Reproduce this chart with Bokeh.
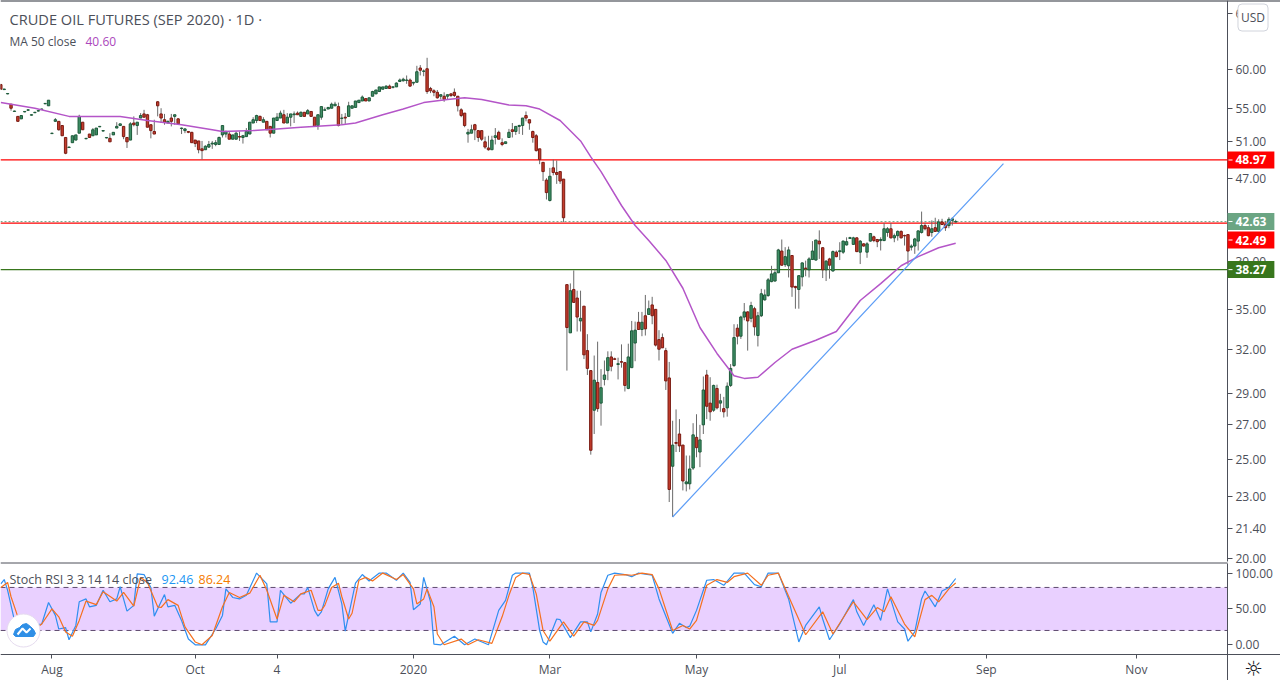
from math import log, exp
from bokeh.plotting import figure
from bokeh.models import Range1d, FixedTicker, Label, BoxAnnotation, NumeralTickFormatter, LinearAxis, LinearScale
from bokeh.embed import file_html
from bokeh.resources import INLINE

opens = [58.0,57.35,56.8,55.5,54.6,54.0,53.7,54.55,54.75,54.15,
54.45,54.65,54.85,55.55,55.3,51.95,53.4,53.4,52.9,51.5,
50.35,50.9,51.2,52.0,53.3,51.35,51.9,51.7,51.8,52.75,
52.25,51.45,51.4,51.8,52.6,52.9,52.8,51.5,51.2,53.2,
52.9,53.8,54.3,54.2,53.0,52.2,55.8,54.3,53.6,53.2,
53.8,54.0,53.7,52.55,52.3,52.2,52.1,51.2,51.1,50.2,
50.1,50.4,50.75,50.7,50.7,51.8,51.9,51.9,51.3,51.3,
51.6,51.5,51.6,51.9,53.2,53.5,54.0,53.3,53.4,52.8,
52.0,53.5,53.8,54.2,53.2,53.9,54.2,54.4,54.0,54.5,
54.3,54.6,53.9,52.9,53.9,54.75,54.9,55.0,55.3,55.2,
53.75,53.9,54.0,55.0,55.1,55.7,55.9,56.2,55.9,56.5,
56.8,57.1,57.4,57.5,57.8,57.65,57.7,58.4,58.5,58.55,
58.6,58.2,58.3,60.2,59.75,60.1,57.5,57.2,57.0,56.5,
56.5,56.5,56.8,57.0,56.5,54.8,54.4,51.9,52.0,53.0,
52.3,52.3,51.0,50.3,50.1,51.5,52.1,50.9,50.8,51.5,
52.4,52.2,52.8,52.9,54.1,53.6,52.2,51.7,50.2,48.7,
46.8,44.7,48.1,47.6,47.7,46.9,37.0,33.2,36.6,35.9,
34.1,35.25,31.9,30.5,27.9,29.7,28.35,29.9,30.5,31.45,
31.32,30.92,31.12,31.05,29.3,30.7,32.45,34.0,33.45,34.5,
34.6,35.35,35.0,32.7,32.85,31.9,30.0,24.6,25.95,26.45,
25.8,23.65,23.65,24.5,26.25,25.4,27.0,30.2,28.35,27.9,
29.3,28.35,28.0,28.05,29.5,30.85,33.55,32.95,34.4,34.8,
34.3,35.05,33.0,34.5,35.75,36.1,37.25,37.3,38.0,39.9,
38.7,38.6,39.5,36.85,36.6,37.65,38.4,38.25,39.15,39.1,
40.8,40.2,38.25,39.2,38.15,39.8,39.85,39.8,40.45,41.05,
40.5,41.1,39.8,40.55,39.8,40.8,41.2,40.95,40.85,40.85,
41.6,41.95,41.1,41.3,41.7,41.32,41.4,40.25,40.35,40.8,
41.6,42.25,42.05,41.6,42.05,41.7,42.6,42.35,42.25,42.75,42.6]

highs = [58.1,57.45,56.9,55.5,54.7,54.0,54.1,54.65,54.85,54.25,
54.55,54.75,54.95,55.65,56.0,52.05,53.8,53.4,52.9,51.5,
50.45,51.7,51.8,54.2,53.3,51.45,51.9,52.6,52.6,52.85,
52.35,51.55,52.0,52.1,53.3,53.1,52.8,51.5,53.3,54.0,
53.3,54.4,54.8,54.3,53.0,53.6,55.9,55.0,54.3,53.5,
54.3,54.2,53.8,52.65,52.6,52.25,52.15,51.2,51.1,51.1,
50.6,51.1,51.1,51.2,51.6,52.9,52.3,52.2,51.8,52.2,
52.2,51.8,52.6,53.3,53.9,54.2,54.1,53.9,53.4,52.8,
53.8,54.4,54.7,54.8,54.4,54.3,54.6,54.6,54.6,54.5,
54.9,54.6,53.9,54.2,55.2,55.1,55.1,55.7,55.8,55.7,
54.3,54.4,55.8,55.3,55.9,56.0,56.6,56.2,56.3,57.2,
57.3,57.7,57.7,57.9,58.0,57.8,58.3,58.8,58.9,59.2,
58.8,58.3,60.5,60.6,60.0,61.6,57.7,57.4,57.3,56.7,
57.0,56.7,56.9,57.5,56.5,55.0,54.4,52.5,53.0,53.1,
52.3,52.3,51.6,51.7,51.7,52.6,52.3,51.4,51.0,52.5,
53.2,52.8,53.0,53.8,54.6,53.6,52.3,51.9,50.2,48.7,
47.0,48.1,49.0,48.9,47.7,46.9,37.0,37.1,38.2,36.5,
36.5,35.25,33.1,30.5,31.55,32.55,30.6,31.2,31.85,31.85,
31.4,31.4,32.35,31.1,32.4,34.1,34.05,34.8,34.8,36.15,
35.7,36.0,35.0,33.4,33.15,32.1,31.1,27.25,27.95,27.35,
25.8,25.2,25.2,27.1,27.65,27.0,30.1,30.55,30.05,29.55,
29.55,28.95,28.75,29.7,30.95,33.85,33.85,34.5,35.5,34.85,
35.6,35.2,34.8,36.65,36.6,37.55,38.6,38.35,40.1,40.95,
40.25,40.3,39.5,36.9,37.8,38.9,39.05,39.35,40.8,40.9,
41.8,40.25,39.1,39.3,39.95,39.95,40.7,40.85,41.15,41.2,
41.2,41.15,40.9,40.6,40.7,41.55,41.3,41.0,41.15,42.5,
42.1,42.5,41.5,41.8,41.8,41.4,41.45,40.5,41.1,41.8,
43.6,42.5,42.3,42.75,43.0,42.85,42.9,42.7,43.05,43.05,42.8]

lows = [57.4,57.3,56.75,54.7,54.55,53.4,53.7,54.5,54.7,54.1,
54.4,54.6,54.8,55.5,55.3,51.9,53.35,52.3,51.7,49.6,
50.3,50.9,51.2,52.0,52.4,51.3,51.5,51.7,51.8,52.7,
52.2,51.4,51.0,51.8,52.6,52.85,51.3,50.3,51.2,52.8,
51.8,53.8,53.9,52.7,51.4,51.9,54.0,53.2,53.0,53.2,
52.8,53.0,53.1,51.9,52.0,52.0,50.9,50.4,49.7,49.0,
50.1,50.3,50.2,50.5,50.7,51.5,51.5,51.3,51.3,51.3,
51.1,50.8,51.6,51.9,53.2,53.2,53.5,53.3,52.4,51.5,
52.0,53.5,53.8,53.2,53.2,52.8,53.2,54.2,54.0,54.0,
54.3,54.0,52.8,52.4,53.6,54.7,54.9,55.0,55.3,52.8,
53.0,53.1,54.0,55.0,55.1,55.7,55.9,55.9,55.9,56.5,
56.8,57.1,57.4,57.5,57.5,57.5,57.7,58.4,58.4,58.1,
57.7,57.9,58.3,59.2,59.1,56.8,56.9,56.5,56.2,56.1,
55.8,56.1,56.4,56.4,54.6,53.9,52.7,50.9,52.0,51.2,
51.0,51.1,50.2,50.0,50.1,50.7,51.3,50.5,50.8,51.5,
51.5,51.8,51.9,51.8,53.4,52.4,50.9,49.9,48.5,46.7,
44.8,44.6,47.3,46.4,46.4,42.6,30.5,33.2,35.55,33.3,
33.3,31.3,30.2,25.25,26.45,27.8,26.95,29.5,29.85,30.45,
31.25,29.9,30.7,29.1,29.25,30.7,31.15,33.45,32.95,33.0,
34.6,33.85,32.2,31.2,32.1,29.2,22.7,21.95,25.4,25.4,
23.3,23.25,23.35,24.4,25.1,24.55,26.45,27.35,27.25,27.8,
27.95,27.8,27.45,27.5,29.4,30.75,32.35,32.75,34.15,31.9,
34.0,33.0,32.2,34.4,35.7,36.0,37.2,37.25,38.0,38.6,
38.5,37.6,36.0,35.05,35.05,36.85,37.7,37.6,39.1,39.05,
39.2,37.55,37.3,37.5,38.1,39.35,39.1,39.65,40.4,41.0,
40.45,39.8,38.75,40.3,39.3,40.75,40.7,40.25,39.95,40.8,
41.2,41.05,40.7,40.85,41.05,40.4,38.7,39.95,39.65,39.95,
41.5,41.8,41.25,41.2,41.65,41.6,42.3,41.75,42.0,42.25,42.55]

closes = [57.4,57.42,56.85,55.0,54.65,53.4,54.1,54.6,54.8,54.2,
54.5,54.7,54.9,55.6,56.0,52.0,53.6,52.4,51.7,49.7,
50.4,51.7,51.8,54.0,52.4,51.4,51.5,52.4,52.6,52.8,
52.3,51.5,51.0,52.1,52.8,53.1,51.6,51.0,53.1,53.0,
53.3,54.1,53.9,52.7,52.3,51.9,55.3,53.8,53.3,53.4,
53.4,54.2,53.1,52.6,52.5,52.1,50.9,50.8,50.1,50.0,
50.5,50.7,50.85,50.9,51.5,52.9,52.2,51.3,51.8,52.0,
51.55,51.7,52.2,53.3,53.6,54.1,53.5,53.6,52.4,52.0,
53.8,53.9,54.4,53.2,53.9,54.3,54.3,54.2,54.5,54.0,
54.7,54.0,52.8,54.2,55.2,54.8,55.1,55.5,55.5,52.9,
53.8,53.8,55.3,55.3,55.9,56.0,56.4,55.9,56.3,57.1,
57.3,57.7,57.7,57.8,57.5,57.7,58.2,58.6,58.7,58.6,
57.8,58.3,59.7,59.9,59.8,57.1,57.2,57.0,56.3,56.7,
56.1,56.7,56.6,56.6,55.3,54.1,52.9,52.1,52.4,52.4,
51.5,51.3,50.4,50.1,51.2,51.7,51.3,50.7,51.0,52.1,
52.2,52.8,52.9,53.8,53.8,53.2,51.5,50.0,49.0,47.7,
45.5,47.2,47.6,47.4,46.7,43.0,33.6,36.5,35.55,34.4,
34.3,31.6,30.65,25.5,29.85,28.0,29.35,30.2,31.4,30.8,
31.28,30.98,31.08,29.5,31.45,33.35,33.4,33.45,34.0,33.5,
35.05,34.5,32.3,32.0,32.1,29.8,23.35,25.8,25.9,25.75,
23.8,23.75,24.45,26.4,25.65,26.1,29.2,28.15,27.8,29.5,
28.05,28.5,27.8,29.45,30.65,32.85,32.95,34.4,34.8,34.1,
35.3,33.65,34.5,36.25,36.15,37.4,37.9,38.0,40.0,38.65,
39.4,40.0,36.8,36.75,37.75,38.85,38.35,39.2,39.9,40.9,
40.55,38.25,39.0,38.65,39.85,39.4,39.92,40.8,40.75,41.12,
41.1,39.85,40.8,40.35,40.55,41.5,40.85,40.75,40.95,41.95,
41.95,41.1,41.3,41.7,41.1,41.28,39.9,40.35,41.0,41.75,
42.25,41.95,41.3,41.95,41.7,42.6,42.35,42.05,42.85,42.9,42.63]

ma_bars = [0,10,20,35,43,53,62,65,74,81,88,100,104,112,118,124,131,136,141,149,154,158,164,170,173,176,182,186,190,195,200,205,210,215,218,222,227,232,239,245,252,258,264,269,275,280]
ma_vals = [55.7,55.0,54.0,54.0,53.5,53.0,52.4,52.2,52.3,52.5,52.7,53.0,53.2,54.2,54.9,55.7,56.1,56.3,56.1,55.4,55.3,54.9,53.5,51.1,49.3,47.7,44.2,42.26,40.85,39.07,36.7,33.6,31.7,30.15,29.97,30.05,31.06,32.0,32.65,33.3,35.7,37.08,38.6,39.4,40.2,40.6]

trend_bars = [197, 294]
trend_vals = [21.95, 48.57]

k_bars = [0,1,2,4,6,8,10,12,14,16,17,19,20,22,23,25,26,28,30,32,34,35,37,39,40,42,44,45,48,49,51,53,55,57,60,63,65,66,68,70,72,75,78,79,81,82,85,88,89,90,92,93,94,96,98,100,101,104,106,108,111,113,116,118,120,121,123,124,126,127,129,133,136,139,143,146,148,150,151,155,156,158,159,160,163,164,167,170,172,173,175,176,178,180,183,185,187,191,193,197,199,201,202,204,207,209,212,215,218,221,223,225,228,231,234,236,240,241,243,246,250,251,253,256,258,260,263,265,266,268,270,271,274,276,278,280]
k_vals = [85,91,76,34,30,20,28,29,59,41,22,24,7,27,60,64,53,55,76,60,64,81,47,55,99,98,80,40,70,53,55,34,8,0,0,22,41,78,66,64,69,100,85,32,32,76,58,71,71,80,48,40,46,78,94,57,19,86,98,89,100,100,90,100,87,49,57,94,60,1,0,12,0,8,0,48,62,97,100,100,80,20,4,0,36,35,10,32,32,18,43,73,97,100,98,95,100,97,64,16,30,24,26,48,90,91,83,100,100,84,81,100,100,64,4,27,53,36,7,29,63,46,27,56,34,78,32,22,5,18,64,75,53,75,80,92.46]

d_bars = [0,2,3,5,8,10,12,15,17,19,21,23,25,28,30,34,36,39,41,43,46,47,49,52,54,57,59,62,65,67,70,73,76,78,81,83,86,88,91,93,94,95,97,99,100,102,103,105,107,109,112,116,118,121,122,124,125,127,128,130,135,137,140,144,147,149,151,153,155,157,159,161,165,168,171,174,175,178,180,183,185,188,191,193,197,200,202,204,207,210,213,215,219,223,225,228,232,236,241,244,250,254,257,259,261,265,268,271,273,275,278,280]
d_vals = [80,87,67,39,25,22,29,50,39,18,12,34,61,56,74,61,73,54,94,87,53,52,63,55,25,4,0,13,53,73,66,72,97,76,36,69,60,71,76,48,48,55,80,86,67,36,44,90,94,89,100,91,98,78,57,64,78,53,15,0,8,0,7,2,39,69,94,100,98,71,20,5,32,12,32,27,34,78,97,98,97,100,98,78,20,27,22,34,83,91,87,95,100,83,97,100,57,14,46,15,60,35,52,46,67,29,11,63,69,60,78,86.24]

level_up = 48.97
level_mid = 42.49
level_low = 38.27
last_price = 42.63

price_ticks = [68, 60, 55, 51, 47, 39, 35, 32, 29, 27, 25, 23, 21.4, 20]
stoch_ticks = [100, 50, 0]
time_bars = [15, 57, 81, 121, 161, 204, 246, 289, 333]
time_labels = ["Aug", "Oct", "4", "2020", "Mar", "May", "Jul", "Sep", "Nov"]

FONT = "Open Sans"
GREY = "#4c4f59"
UP_FILL, UP_EDGE = "#3f8f66", "#1d5a3a"
DN_FILL, DN_EDGE = "#c43c2c", "#7a1a12"

W, H = 1280, 680
AXIS_PX = 1227
X0 = -0.09
X1 = 359.7
XR = X0 + (X1 - X0) * W / AXIS_PX
Y1 = 60 * exp(69 / 445)
Y0 = 60 * exp(-611 / 445)
S_TOP = 644.3 / 0.717
S_BOTTOM = -35.7 / 0.717
S_PANE_TOP = (644.3 - 562.5) / 0.717
S_PANE_BOTTOM = (644.3 - 653.5) / 0.717


def sy(price):
    return (log(price) - log(Y0)) / (log(Y1) - log(Y0)) * H


def bx(px):
    return (px - 0.3) / 3.41


def vy(py):
    return (644.3 - py) / 0.717


bars = list(range(len(opens)))
ups = [i for i in bars if closes[i] >= opens[i]]
dns = [i for i in bars if closes[i] < opens[i]]

p = figure(width=W, height=H, x_range=Range1d(X0, XR), y_range=Range1d(Y0, Y1),
           y_axis_type="log", y_axis_location="right", output_backend="svg",
           toolbar_location=None, min_border_left=0, min_border_right=0,
           min_border_top=0, min_border_bottom=0, outline_line_color=None)
p.extra_y_ranges = {"stoch": Range1d(S_BOTTOM, S_TOP)}
p.extra_y_scales = {"stoch": LinearScale()}
p.grid.visible = False


def style_right_axis(a):
    a.formatter = NumeralTickFormatter(format="0.00")
    a.axis_line_color = GREY
    a.major_tick_line_color = GREY
    a.minor_tick_line_color = None
    a.major_tick_out = 5
    a.major_tick_in = 0
    a.major_label_standoff = 3
    a.major_label_text_color = GREY
    a.major_label_text_font = FONT
    a.major_label_text_font_size = "12px"


ax = p.yaxis[0]
style_right_axis(ax)
ax.ticker = FixedTicker(ticks=price_ticks)
ax.fixed_location = X1
ax.bounds = (sorted(price_ticks)[0] * 0.992, Y1)

ax2 = LinearAxis(y_range_name="stoch")
style_right_axis(ax2)
ax2.ticker = FixedTicker(ticks=stoch_ticks)
ax2.fixed_location = X1
ax2.bounds = (S_BOTTOM, S_PANE_TOP)
p.add_layout(ax2, "right")

axx = p.xaxis[0]
axx.y_range_name = "stoch"
axx.fixed_location = S_PANE_BOTTOM
axx.ticker = FixedTicker(ticks=time_bars)
axx.major_label_overrides = dict(zip(time_bars, time_labels))
axx.axis_line_color = GREY
axx.major_tick_line_color = GREY
axx.minor_tick_line_color = None
axx.major_tick_out = 4
axx.major_tick_in = 0
axx.major_label_standoff = 3
axx.major_label_text_color = GREY
axx.major_label_text_font = FONT
axx.major_label_text_font_size = "12px"

# dark edge along the top of the chart
p.segment([X0], [Y1], [XR], [Y1], line_color="#2a2e39", line_width=2)

# horizontal levels stop at the price scale
for loc, col, w, dash in [(level_up, "#ff0000", 1.2, "solid"), (level_mid, "#ff0000", 1.2, "solid"),
                          (level_low, "#38761d", 1.2, "solid"), (last_price, "#6ba583", 1, "2 2")]:
    p.segment([X0], [loc], [X1], [loc], line_color=col, line_width=w, line_dash=dash)

p.segment(bars, highs, bars, lows, line_color="#6a6a6a", line_width=1)
p.vbar([bars[i] for i in ups], 0.7, [opens[i] for i in ups], [closes[i] for i in ups],
       fill_color=UP_FILL, line_color=UP_EDGE, line_width=1)
p.vbar([bars[i] for i in dns], 0.7, [closes[i] for i in dns], [opens[i] for i in dns],
       fill_color=DN_FILL, line_color=DN_EDGE, line_width=1)
p.line(ma_bars, ma_vals, line_color="#b455c8", line_width=1.5)
p.line(trend_bars, trend_vals, line_color="#5b9cf6", line_width=1.2)

# stochastic pane on the extra range
p.quad(left=[X0], right=[X1], bottom=[20], top=[80], y_range_name="stoch",
       fill_color="#e9d0ff", line_color=None)
for v in (80, 20):
    p.segment([X0], [v], [X1], [v], y_range_name="stoch", line_color="#5d4a6e", line_width=1, line_dash="5 4")
p.segment([X0], [S_PANE_TOP], [X1], [S_PANE_TOP], y_range_name="stoch", line_color=GREY, line_width=1)
p.line(k_bars, k_vals, y_range_name="stoch", line_color="#2f8ff0", line_width=1.2)
p.line(d_bars, d_vals, y_range_name="stoch", line_color="#f5701f", line_width=1.2)

# decorative logo badge
p.scatter([bx(23)], [vy(630)], y_range_name="stoch", size=33, marker="circle", fill_color="#ffffff",
          line_color="#e6dcef", line_width=1)
p.patch([bx(v) for v in (13, 15, 19, 22, 26, 30, 33, 35, 33, 15)],
        [vy(v) for v in (634, 629, 627, 624, 623, 626, 629, 633, 636, 636)], y_range_name="stoch",
        fill_color="#2f8fe6", line_color="#2f8fe6")
p.line([bx(v) for v in (17, 22, 26, 30)], [vy(v) for v in (634, 628, 632, 628)], y_range_name="stoch",
       line_color="#ffffff", line_width=2)


def lab(x, py, text, color=GREY, size="12px", font=FONT, **kw):
    p.add_layout(Label(x=x, y=H - py, x_units="screen", y_units="screen", text=text, text_color=color,
                       text_font=font, text_font_size=size, text_baseline="middle", **kw))


lab(9, 18, "CRUDE OIL FUTURES (SEP 2020) · 1D ·", size="14.6px")
lab(9, 41, "MA 50 close", size="12px")
lab(85, 41, "40.60", color="#ab47bc", size="12px")

# price tags; the 42.49 tag is pushed down below the 42.63 one, as in the source
for price, col, shift in [(level_up, "#ff0000", 0), (last_price, "#6ba583", 0),
                          (level_mid, "#ff0000", 17), (level_low, "#38761d", 0)]:
    py = H - sy(price) + shift
    lab(AXIS_PX, py, f"{price:.2f}", color="#ffffff", size="12px", text_font_style="bold",
        background_fill_color=col, padding=(8, 4))
    p.add_layout(BoxAnnotation(left=AXIS_PX + 1, right=AXIS_PX + 5, top=py - 0.5, bottom=py + 0.5,
                               left_units="canvas", right_units="canvas", top_units="canvas",
                               bottom_units="canvas", fill_color="#ffffff", fill_alpha=1, line_color=None))
lab(1252.5, 17, "USD", size="12px", text_align="center", background_fill_color="#ffffff",
    border_line_color="#d1d4dc", border_radius=4, padding=(3, 5))

lab(9, 579, "Stoch RSI 3 3 14 14 close", size="12.5px")
lab(161, 579, "92.46", color="#2196f3", size="12.5px")
lab(198, 579, "86.24", color="#f57c00", size="12.5px")
lab(1253, 668, "☼", color="#131722", size="21px", font="DejaVu Sans", text_align="center")

open("out.html", "w").write(file_html(p, INLINE))
